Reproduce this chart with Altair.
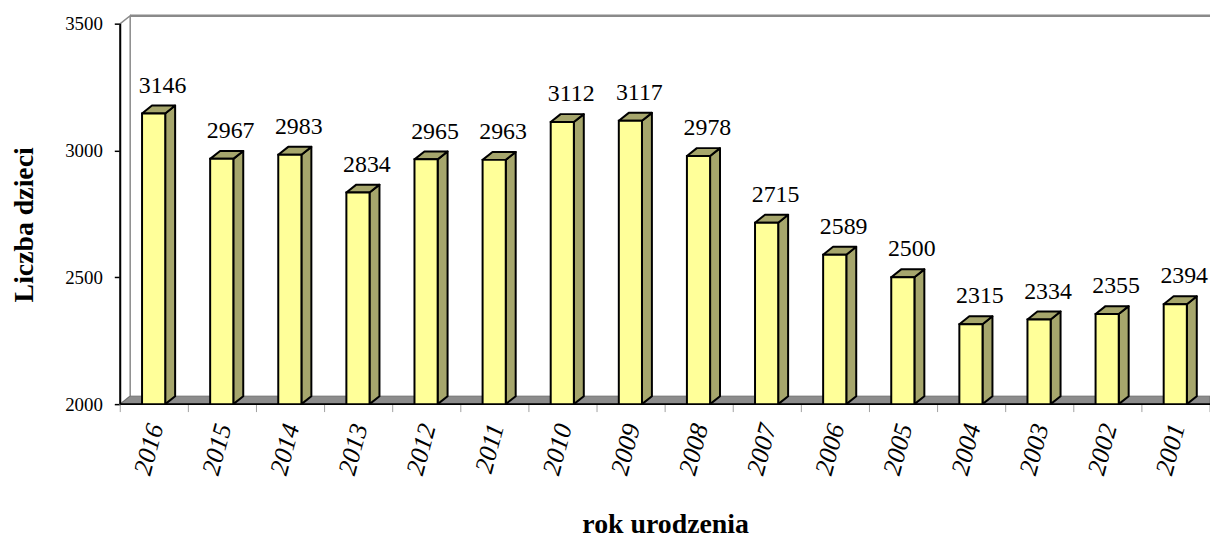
import altair as alt
import pandas as pd

# ---- data ----
years = ["2016", "2015", "2014", "2013", "2012", "2011", "2010", "2009",
         "2008", "2007", "2006", "2005", "2004", "2003", "2002", "2001"]
counts = [3146, 2967, 2983, 2834, 2965, 2963, 3112, 3117,
          2978, 2715, 2589, 2500, 2315, 2334, 2355, 2394]
y_ticks = [2000, 2500, 3000, 3500]

# ---- geometry / style ----
W, H = 1097, 391
Y0, Y1 = 2000, 3500
DEPTH_PX_X, DEPTH_PX_Y = 10, 8
n = len(years)
DY = DEPTH_PX_Y * (Y1 - Y0) / (H - DEPTH_PX_Y)
YTOP = Y1 + DY
DX = DEPTH_PX_X * n / W
CENTER, HALF = 0.49, 0.17

FONT = "Liberation Serif"
FRONT = "#FFFF99"
SIDE = "#A6A66C"
FLOOR = "#8C8C8C"
WALL = "#8A8A8A"

xs = alt.Scale(domain=[0, n], nice=False, zero=False)
ys = alt.Scale(domain=[Y0, YTOP], nice=False, zero=False)

label_expr = "[" + ",".join("'%s'" % y for y in years) + "][floor(datum.value)]"
x_axis = alt.Axis(values=[i + 0.5 for i in range(n)], labelExpr=label_expr,
                  ticks=False, domain=False, grid=False,
                  labelAngle=-75, labelAlign="right", labelBaseline="middle",
                  labelFont=FONT, labelFontStyle="italic", labelFontSize=26,
                  labelColor="black", labelPadding=20, labelOffset=1,
                  title="rok urodzenia", titleFont=FONT, titleFontSize=28,
                  titleFontWeight="bold", titleColor="black",
                  titleBaseline="alphabetic", titleY=129)
y_axis = alt.Axis(values=y_ticks, format="d", domain=False, grid=False, ticks=True,
                  tickColor="black", tickSize=6, tickWidth=1.5,
                  labelFont=FONT, labelFontSize=19, labelColor="black",
                  labelPadding=12,
                  title="Liczba dzieci", titleFont=FONT, titleFontSize=28,
                  titleFontWeight="bold", titleColor="black",
                  titleBaseline="alphabetic", titleX=-88, titleY=210)


def X(f):
    return alt.X(f, type="quantitative", scale=xs, axis=x_axis)


def Y(f):
    return alt.Y(f, type="quantitative", scale=ys, axis=y_axis)


# bars
bars = pd.DataFrame({"i": range(n), "year": years, "v": counts})
bars["x0"] = bars["i"] + CENTER - HALF
bars["x1"] = bars["i"] + CENTER + HALF
bars["xc"] = bars["i"] + CENTER
bars["base"] = Y0

side_rows, top_rows = [], []
for i, v in enumerate(counts):
    x0 = i + CENTER - HALF
    x1 = i + CENTER + HALF
    side_rows += [
        {"bar": i, "x": x1, "ya": Y0, "yb": v},
        {"bar": i, "x": x1 + DX, "ya": Y0 + DY, "yb": v + DY},
    ]
    top_rows += [
        {"bar": i, "x": x0, "ya": v, "yb": v},
        {"bar": i, "x": x0 + DX, "ya": v, "yb": v + DY},
        {"bar": i, "x": x1, "ya": v, "yb": v + DY},
        {"bar": i, "x": x1 + DX, "ya": v + DY, "yb": v + DY},
    ]
side = pd.DataFrame(side_rows)
top = pd.DataFrame(top_rows)

wall = pd.DataFrame({"w": 0, "x": [0, DX],
                     "ya": [Y0, Y0 + DY], "yb": [Y1, YTOP]})
floor = pd.DataFrame({"w": 0, "x": [0, DX, n],
                      "ya": [Y0, Y0, Y0], "yb": [Y0, Y0 + DY, Y0 + DY]})
frame = pd.DataFrame({"xa": [DX], "xb": [n], "ya": [YTOP], "za": [0],
                      "y0": [Y0], "y1": [Y1], "xn": [n]})
bounds = pd.DataFrame({"b": list(range(n + 1)), "yv": Y0})


def area(df, group, **kw):
    return alt.Chart(df).mark_area(orient="vertical", **kw).encode(
        x=X("x"), y=Y("ya"), y2=alt.Y2("yb"), detail=alt.Detail(group, type="nominal"))


wall_l = area(wall, "w", fill="white", stroke=WALL, strokeWidth=1.5)
floor_l = area(floor, "w", fill=FLOOR, stroke="#6E6E6E", strokeWidth=1)
topline = alt.Chart(frame).mark_rule(color=WALL, strokeWidth=2.5).encode(
    x=X("xa"), x2=alt.X2("xb"), y=Y("ya"))
front_axis = alt.Chart(frame).mark_rule(color="black", strokeWidth=2).encode(
    x=X("za"), y=Y("y0"), y2=alt.Y2("y1"))
base_line = alt.Chart(frame).mark_rule(color="black", strokeWidth=2).encode(
    x=X("za"), x2=alt.X2("xn"), y=Y("y0"))
xticks = alt.Chart(bounds).mark_rule(color="#A0A0A0", strokeWidth=1).encode(
    x=X("b"), y=alt.value(H), y2=alt.value(H + 8))

front_l = alt.Chart(bars).mark_rect(fill=FRONT, stroke="black", strokeWidth=2).encode(
    x=X("x0"), x2=alt.X2("x1"), y=Y("base"), y2=alt.Y2("v"))
side_l = area(side, "bar", fill=SIDE, stroke="black", strokeWidth=2, strokeJoin="round")
top_l = area(top, "bar", fill=SIDE, stroke="black", strokeWidth=2, strokeJoin="round")
labels = alt.Chart(bars).mark_text(font=FONT, fontSize=24, color="black",
                                   baseline="middle", dx=9, dy=-28).encode(
    x=X("xc"), y=Y("v"), text=alt.Text("v:Q", format="d"))

chart = alt.layer(
    wall_l, floor_l, topline, xticks, base_line, front_axis,
    side_l, top_l, front_l, labels
).properties(
    width=W, height=H,
    padding={"left": 113, "top": 6, "right": 0, "bottom": 134},
    autosize=alt.AutoSizeParams(type="none"),
).configure_view(stroke=None)

chart.save("out.html", embed_options={"renderer": "svg", "actions": False})
